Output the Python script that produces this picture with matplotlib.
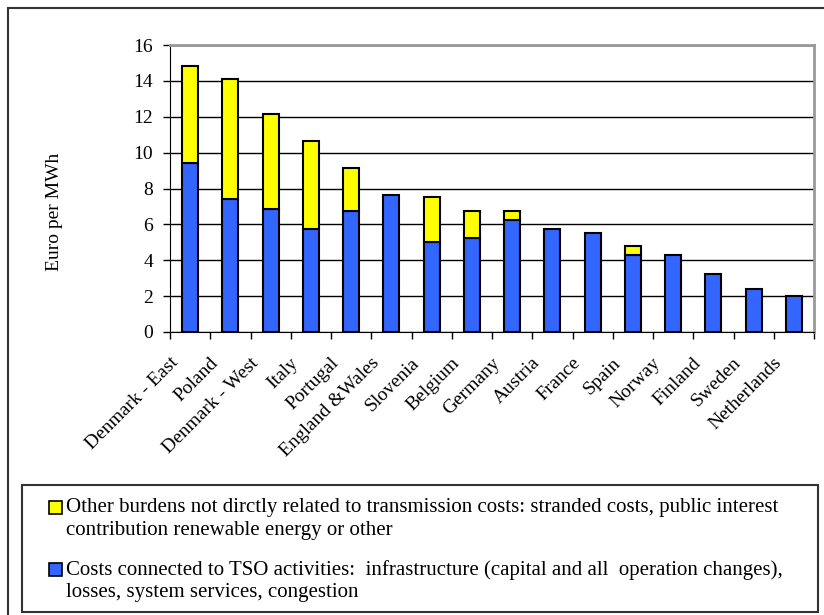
import matplotlib.pyplot as plt
import matplotlib.transforms as mtransforms
import numpy as np
from matplotlib.patches import Rectangle

plt.rcParams['font.family'] = ['Liberation Serif', 'DejaVu Serif']

countries = ['Denmark - East', 'Poland', 'Denmark - West', 'Italy', 'Portugal',
             'England &Wales', 'Slovenia', 'Belgium', 'Germany', 'Austria',
             'France', 'Spain', 'Norway', 'Finland', 'Sweden', 'Netherlands']
tso_costs = [9.40, 7.41, 6.85, 5.74, 6.76, 7.65, 5.03, 5.24, 6.26, 5.76,
             5.54, 4.31, 4.27, 3.23, 2.41, 1.99]
other_burdens = [5.45, 6.67, 5.28, 4.91, 2.40, 0.0, 2.48, 1.52, 0.47, 0.0,
                 0.0, 0.50, 0.0, 0.0, 0.0, 0.0]

legend_labels = [
    ('Other burdens not dirctly related to transmission costs: stranded costs, public interest\n'
     'contribution renewable energy or other'),
    ('Costs connected to TSO activities:  infrastructure (capital and all  operation changes),\n'
     'losses, system services, congestion'),
]

blue = '#3366FF'
yellow = '#FFFF00'
W, H = 824, 615

fig = plt.figure(figsize=(W / 100, H / 100), dpi=100)
ax = fig.add_axes([170 / W, 1 - 332 / H, 644 / W, 287 / H])

x = np.arange(len(countries))
ax.bar(x, tso_costs, width=0.4, color=blue, edgecolor='black', linewidth=1.5, zorder=3)
b2 = ax.bar(x, other_burdens, width=0.4, bottom=tso_costs, color=yellow,
            edgecolor='black', linewidth=1.5, zorder=3)
for r, v in zip(b2, other_burdens):
    if v == 0:
        r.set_visible(False)

ax.set_xlim(-0.5, len(countries) - 0.5)
ax.set_ylim(0, 16)
ax.set_yticks(np.arange(0, 17, 2))
ax.yaxis.grid(True, color='black', linewidth=1)
ax.set_axisbelow(True)

ax.set_xticks(x)
ax.set_xticklabels(countries, rotation=45, ha='right', va='top',
                   rotation_mode='anchor', fontsize=14)
ax.tick_params(axis='x', which='major', length=0, pad=16)
shift = mtransforms.ScaledTranslation(-15 / 72, 0, fig.dpi_scale_trans)
for lab in ax.get_xticklabels():
    lab.set_transform(lab.get_transform() + shift)
ax.set_xticks(np.arange(-0.5, len(countries), 1), minor=True)
ax.tick_params(axis='x', which='minor', length=5, width=1, direction='out')
ax.tick_params(axis='y', length=5, width=1, direction='out', labelsize=14, pad=7)

ax.spines['left'].set_color('black')
ax.spines['bottom'].set_color('black')
for s in ['top', 'right']:
    ax.spines[s].set_color('#999999')
    ax.spines[s].set_linewidth(2)

ax.set_ylabel('Euro per MWh', fontsize=14)
ax.yaxis.set_label_coords((63 - 170) / 644, (332 - 212) / 287)

# legend box, drawn by hand to match the original layout
fig.add_artist(Rectangle((22 / W, 1 - 612 / H), 796 / W, 127 / H, transform=fig.transFigure,
                         fill=False, edgecolor='#333333', linewidth=1.5))
for i, (lab, col) in enumerate(zip(legend_labels, [yellow, blue])):
    ytop = 498 + i * 62
    fig.add_artist(Rectangle((49 / W, 1 - (ytop + 16) / H), 13 / W, 13 / H,
                             transform=fig.transFigure, facecolor=col,
                             edgecolor='black', linewidth=1.2))
    fig.text(66 / W, 1 - ytop / H, lab, fontsize=15, va='top', ha='left',
             linespacing=1.25)

# outer frame
fig.add_artist(Rectangle((8 / W, -0.05), 1.1, 1 - 8 / H + 0.05,
                         transform=fig.transFigure, fill=False,
                         edgecolor='#333333', linewidth=1.5))

fig.savefig('out.png', dpi=100)
